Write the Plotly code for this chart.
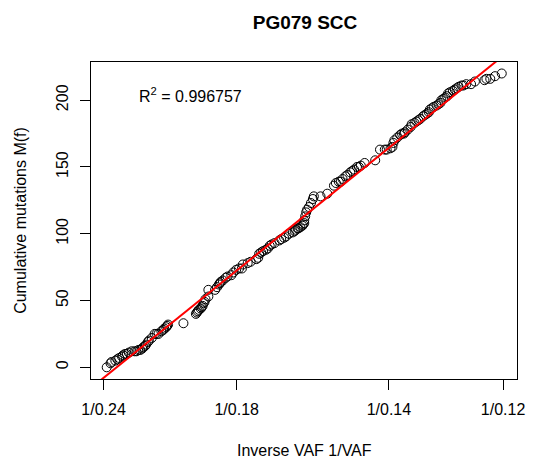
import plotly.graph_objects as go

# inverse VAF (1/f) and cumulative mutations M(f)
inv_vaf = [4.20, 4.24, 4.25, 4.29, 4.31, 4.33, 4.36, 4.37, 4.39, 4.41, 4.43, 4.46, 4.49, 4.51,
           4.53, 4.55, 4.57, 4.58, 4.60, 4.61, 4.63, 4.64, 4.67, 4.70, 4.72, 4.74, 4.77, 4.79,
           4.80, 4.82, 4.83, 4.84,
           5.00,
           5.13, 5.14, 5.15, 5.16, 5.18, 5.19, 5.20, 5.21, 5.22, 5.23, 5.26, 5.26, 5.33,
           5.35, 5.37, 5.38, 5.39, 5.41, 5.44, 5.46, 5.50, 5.52, 5.55, 5.58, 5.61, 5.62, 5.67,
           5.70, 5.76, 5.78, 5.79, 5.81, 5.83, 5.86, 5.88, 5.90, 5.92, 5.95, 6.00, 6.02, 6.05,
           6.07, 6.10, 6.14, 6.16, 6.17, 6.19, 6.20, 6.22, 6.24, 6.25, 6.26, 6.26, 6.27, 6.28,
           6.29, 6.31, 6.33, 6.35, 6.36, 6.43, 6.50, 6.57, 6.59, 6.62, 6.64, 6.66, 6.69, 6.71,
           6.74, 6.76, 6.78, 6.81, 6.83, 6.85, 6.89, 7.00, 7.05, 7.10, 7.12, 7.16, 7.18, 7.19,
           7.20, 7.23, 7.26, 7.28, 7.30, 7.31, 7.34, 7.37, 7.38, 7.41, 7.43, 7.45, 7.47, 7.50,
           7.52, 7.54, 7.56, 7.57, 7.59, 7.61, 7.64, 7.66, 7.68, 7.69, 7.71, 7.73, 7.75, 7.76,
           7.78, 7.81, 7.83, 7.85, 7.87, 7.90, 7.92, 7.95, 8.00, 8.04, 8.14, 8.16, 8.20, 8.25,
           8.32]
cum_mut = [0, 3, 4, 5, 6, 7, 8, 9, 10, 10, 11, 12, 12, 12,
           13, 13, 14, 15, 16, 17, 19, 20, 22, 25, 25, 25, 27, 28,
           29, 30, 31, 32,
           33,
           40, 41, 42, 43, 44, 45, 46, 48, 49, 51, 53, 58, 58,
           60, 62, 63, 64, 65, 67, 68, 69, 71, 73, 74, 74, 77, 78,
           79, 81, 82, 85, 86, 87, 88, 89, 91, 92, 93, 95, 96, 97,
           98, 100, 101, 102, 103, 104, 104, 105, 106, 107, 108, 110, 113, 116,
           118, 120, 123, 126, 128, 128, 130, 136, 138, 139, 139, 141, 143, 144,
           146, 147, 148, 150, 150, 151, 153, 155, 163, 163, 163, 164, 165, 168,
           170, 172, 174, 175, 175, 176, 178, 180, 182, 183, 184, 185, 186, 188,
           189, 190, 191, 193, 194, 195, 196, 197, 198, 200, 201, 202, 203, 205,
           206, 207, 208, 209, 210, 211, 211, 212, 212, 214, 215, 216, 216, 218,
           220]

# fitted line M(f) = slope * (1/f) + intercept
fit_slope = 57.86
fit_intercept = -249.0
r_squared = "0.996757"

tick_vaf = [0.24, 0.18, 0.14, 0.12]
tick_labels = ["1/0.24", "1/0.18", "1/0.14", "1/0.12"]
y_ticks = [0, 50, 100, 150, 200]

x_range = [4.036, 8.479]
y_range = [-8.75, 228.6]

FONT = "Liberation Sans, Arial, Helvetica, sans-serif"

fig = go.Figure()
fig.add_trace(go.Scatter(
    x=inv_vaf, y=cum_mut, mode="markers",
    marker=dict(symbol="circle-open", size=9, color="black", line=dict(width=1, color="black")),
    showlegend=False, cliponaxis=True))

line_x = x_range
line_y = [fit_slope * v + fit_intercept for v in line_x]
fig.add_trace(go.Scatter(x=line_x, y=line_y, mode="lines",
                         line=dict(color="red", width=2), showlegend=False))

fig.update_layout(
    width=537, height=462,
    margin=dict(l=91, r=18, t=62, b=83),
    paper_bgcolor="white", plot_bgcolor="white",
    font=dict(family=FONT, size=16, color="black"),
    title=dict(text="<b>PG079 SCC</b>", x=(91 + 519) / 2 / 537, xref="container", xanchor="center",
               y=1 - 22 / 462, yref="container", yanchor="middle",
               font=dict(size=19, family=FONT, color="black")),
    xaxis=dict(range=x_range, tickvals=[1 / v for v in tick_vaf], ticktext=tick_labels,
               showline=True, mirror=True, linecolor="black", linewidth=1,
               ticks="outside", ticklen=10, tickcolor="black", tickwidth=1,
               showgrid=False, zeroline=False, ticklabelstandoff=6),
    yaxis=dict(range=y_range, tickvals=y_ticks, tickangle=-90,
               showline=True, mirror=True, linecolor="black", linewidth=1,
               ticks="outside", ticklen=10, tickcolor="black", tickwidth=1,
               showgrid=False, zeroline=False, ticklabelstandoff=6),
    annotations=[
        dict(text="Inverse VAF 1/VAF", xref="paper", yref="paper",
             x=0.5, y=(379 - 450) / 317, xanchor="center", yanchor="middle",
             showarrow=False, font=dict(size=16)),
        dict(text="Cumulative mutations M(f)", xref="paper", yref="paper",
             x=(20 - 91) / 428, y=0.5, xanchor="center", yanchor="middle", textangle=-90,
             showarrow=False, font=dict(size=16)),
        dict(text="R<sup>2</sup> = " + r_squared, xref="x", yref="y",
             x=4.52, y=204, xanchor="left", yanchor="middle", showarrow=False,
             font=dict(size=16)),
    ],
)

fig.write_html("out.html")
